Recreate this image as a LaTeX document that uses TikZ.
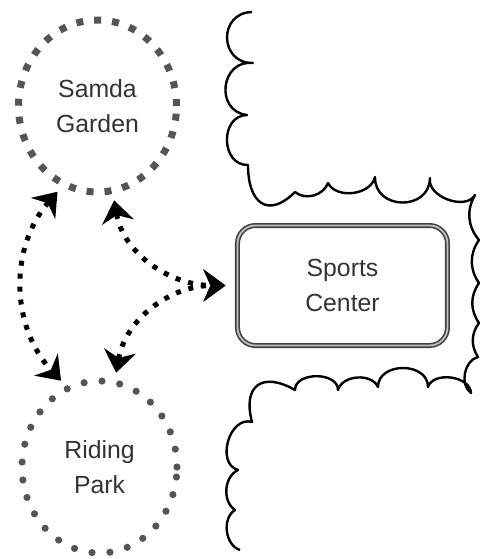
\documentclass[tikz,border=0pt]{standalone}
\usepackage{fontspec}
\setmainfont{Liberation Sans}
\usetikzlibrary{arrows.meta,shapes.geometric}

\definecolor{dotgray}{HTML}{555555}
\definecolor{txtgray}{HTML}{333333}

\begin{document}
\begin{tikzpicture}[x=0.5pt, y=-0.5pt,
  font=\fontsize{12.4}{17.5}\selectfont, text=txtgray,
  place/.style={ellipse, draw=dotgray, inner sep=0pt, outer sep=5pt, align=center},
  link/.style={{Stealth[length=11pt,width=16pt,inset=3.5pt]}-{Stealth[length=11pt,width=16pt,inset=3.5pt]},
    line width=2.5pt, dash pattern=on 2.5pt off 4pt}]
\useasboundingbox (0,0) rectangle (479,559);

\node[place, line width=3.5pt, dash pattern=on 3.5pt off 5.5pt,
  minimum width=79pt, minimum height=86pt] (samda) at (97.5,106) {Samda\\Garden};
\node[place, line width=3.6pt, line cap=round, dash pattern=on 0pt off 9pt,
  minimum width=77.5pt, minimum height=86pt] (riding) at (99.5,467) {Riding\\Park};
\node[draw=black!75, double=black!25, double distance=0.9pt, line width=0.8pt,
  rounded corners=9pt, minimum width=105pt, minimum height=60pt,
  align=center, outer sep=6pt] (sports) at (342.5,285.5) {Sports\\Center};

% cloud edge round the center
\draw[line width=1.2pt, line join=round]
  (252,12) to[bend right=90, looseness=1.7] (253,63)
  to[bend right=90, looseness=1.6] (247,115)
  to[bend right=90, looseness=1.4] (248,165)
  to[out=270, in=225, looseness=1.8] (295,192)
  to[bend right=55] (328,183)
  to[bend right=70] (375,177)
  to[bend right=90, looseness=1.55] (430,178)
  to[bend right=80] (475,195)
  to[bend right=35] (479,240)
  to[bend right=35] (479,283)
  to[bend right=35] (479,323)
  to[bend right=35] (478,357)
  to[bend right=65] (471,393)
  to[bend right=80] (428,387)
  to[bend right=90, looseness=1.3] (378,387)
  to[bend right=70] (338,390)
  to[bend right=90, looseness=1.1] (295,390)
  to[out=150, in=105, looseness=1.8] (252,422)
  to[bend right=90, looseness=1.2] (238,470)
  to[bend right=60] (235,510)
  to[bend right=65] (240,550);

\draw[link] (samda.245) to[bend right=42] (riding.114);
\draw[link] (samda.-80) to[out=-80, in=180] (sports.west);
\draw[link] (riding.80) to[out=80, in=180] (sports.west);
\end{tikzpicture}
\end{document}
